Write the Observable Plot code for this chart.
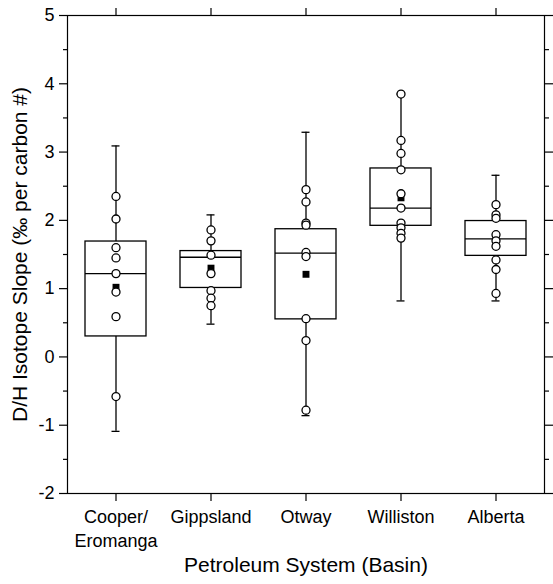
<!DOCTYPE html>
<html>
<head>
<meta charset="utf-8">
<script src="https://cdn.jsdelivr.net/npm/d3@7"></script>
<script src="https://cdn.jsdelivr.net/npm/@observablehq/plot@0.6"></script>
<style>
  html, body { margin: 0; padding: 0; background: white; }
</style>
</head>
<body>
<div id="chart"></div>
<script>
const basins = ["Cooper/Eromanga", "Gippsland", "Otway", "Williston", "Alberta"];
const tickLabels = ["Cooper/\nEromanga", "Gippsland", "Otway", "Williston", "Alberta"];
const whiskerLow  = [-1.09, 0.48, -0.86, 0.82, 0.82];
const q1          = [0.30, 1.01, 0.55, 1.92, 1.48];
const median      = [1.22, 1.46, 1.52, 2.18, 1.73];
const q3          = [1.69, 1.55, 1.87, 2.76, 1.99];
const whiskerHigh = [3.09, 2.08, 3.29, 3.85, 2.66];
const means       = [1.02, 1.30, 1.21, 2.33, 1.75];

const cooperPts    = [2.35, 2.02, 1.60, 1.45, 1.22, 0.95, 0.59, -0.58];
const gippslandPts = [1.86, 1.70, 1.49, 1.22, 0.97, 0.86, 0.75];
const otwayPts     = [2.45, 2.27, 1.96, 1.93, 1.53, 1.47, 0.56, 0.24, -0.78];
const willistonPts = [3.85, 3.17, 2.98, 2.74, 2.39, 2.18, 1.96, 1.89, 1.81, 1.74];
const albertaPts   = [2.23, 2.08, 2.03, 1.79, 1.70, 1.62, 1.42, 1.28, 0.93];

const yMajor = [-2, -1, 0, 1, 2, 3, 4, 5];
const yMinor = [-1.5, -0.5, 0.5, 1.5, 2.5, 3.5, 4.5];
const yTitle = "D/H Isotope Slope (‰ per carbon #)";
const xTitle = "Petroleum System (Basin)";

const stats = basins.map((b, i) => ({
  basin: b, lo: whiskerLow[i], q1: q1[i], med: median[i], q3: q3[i], hi: whiskerHigh[i], mean: means[i]
}));
const ptsByBasin = [cooperPts, gippslandPts, otwayPts, willistonPts, albertaPts];
const points = ptsByBasin.flatMap((arr, i) => arr.map(v => ({basin: basins[i], v})));
const labelOf = new Map(basins.map((b, i) => [b, tickLabels[i]]));

const chart = Plot.plot({
  width: 553,
  height: 584,
  marginLeft: 67,
  marginRight: 9,
  marginTop: 15,
  marginBottom: 91,
  style: {fontFamily: "'Liberation Sans', Arial, Helvetica, sans-serif", fontSize: "18px", background: "white", color: "black"},
  x: {domain: basins, paddingInner: 0.36, paddingOuter: 0.18, axis: null},
  y: {domain: [-2, 5], axis: null},
  marks: [
    Plot.frame({stroke: "black", strokeWidth: 1.2}),
    Plot.axisY({ticks: yMajor, tickSize: 8, tickPadding: 5, tickFormat: d => String(d), label: null, anchor: "left", fontSize: 18, strokeWidth: 1.2}),
    Plot.axisY({ticks: yMinor, tickSize: 4, tickFormat: () => "", label: null, anchor: "left", strokeWidth: 1.2}),
    Plot.axisY({ticks: yMajor, tickSize: 8, tickFormat: () => "", label: null, anchor: "right", strokeWidth: 1.2}),
    Plot.axisY({ticks: yMinor, tickSize: 4, tickFormat: () => "", label: null, anchor: "right", strokeWidth: 1.2}),
    Plot.axisX({tickSize: 8, tickPadding: 5, label: null, anchor: "bottom", tickFormat: d => labelOf.get(d), lineHeight: 1.3, fontSize: 18, strokeWidth: 1.2}),
    Plot.axisX({tickSize: 8, tickFormat: () => "", label: null, anchor: "top", strokeWidth: 1.2}),
    Plot.ruleX(stats, {x: "basin", y1: "lo", y2: "hi", stroke: "black", strokeWidth: 1.3}),
    Plot.tickY(stats, {x: "basin", y: "lo", stroke: "black", strokeWidth: 1.3, insetLeft: 26.5, insetRight: 26.5}),
    Plot.tickY(stats, {x: "basin", y: "hi", stroke: "black", strokeWidth: 1.3, insetLeft: 26.5, insetRight: 26.5}),
    Plot.barY(stats, {x: "basin", y1: "q1", y2: "q3", fill: "white", stroke: "black", strokeWidth: 1.3}),
    Plot.tickY(stats, {x: "basin", y: "med", stroke: "black", strokeWidth: 1.3}),
    Plot.dot(stats, {x: "basin", y: "mean", symbol: "square", r: 3.9, fill: "black", stroke: "none"}),
    Plot.dot(points, {x: "basin", y: "v", r: 4, fill: "white", stroke: "black", strokeWidth: 1.3}),
    Plot.text([yTitle], {frameAnchor: "left", dx: -47, rotate: -90, textAnchor: "middle", fontSize: 21, text: d => d}),
    Plot.text([xTitle], {frameAnchor: "bottom", dy: 78, fontSize: 21, text: d => d})
  ]
});
document.getElementById("chart").appendChild(chart);
</script>
</body>
</html>
